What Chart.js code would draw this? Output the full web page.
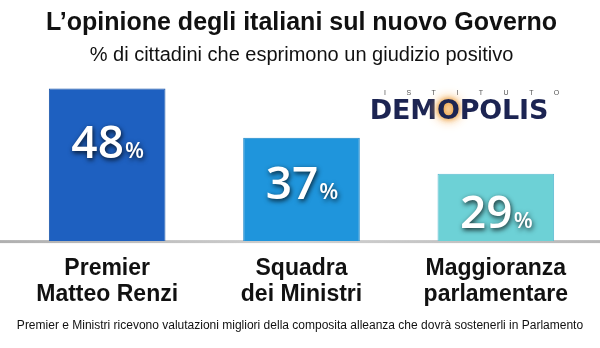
<!DOCTYPE html>
<html lang="it">
<head>
  <meta charset="UTF-8" />
  <title>L'opinione degli italiani sul nuovo Governo</title>
  <style>
    body {
      margin: 0;
      padding: 0;
      background: #fff;
      font-family: 'Liberation Sans', Arial, sans-serif;
    }
    .wrap {
      position: relative;
      width: 600px;
      height: 348px;
    }
    .logo {
      position: absolute;
      left: 364px;
      top: 89px;
      width: 190px;
      text-align: center;
    }
    .logo .istituto {
      font-size: 7px;
      color: #555;
      letter-spacing: 20.5px;
      margin-left: 20px;
      line-height: 8px;
    }
    .logo .name {
      font-family: 'DejaVu Sans', sans-serif;
      font-weight: bold;
      font-size: 27px;
      color: #1c2452;
      line-height: 26px;
      letter-spacing: -0.2px;
    }
    .logo .name span {
      text-shadow: 0 0 5px #e8952e, 0 0 10px #f0a850, 0 0 14px #f5c080;
    }
  </style>
  <script src="https://cdn.jsdelivr.net/npm/chart.js"></script>
</head>
<body>
  <div class="wrap">
    <canvas id="chart" width="600" height="348"></canvas>
    <div class="logo">
      <div class="istituto">ISTITUTO</div>
      <div class="name">DEM<span>O</span>POLIS</div>
    </div>
  </div>

  <script>
    const categorie = [['Premier', 'Matteo Renzi'], ['Squadra', 'dei Ministri'], ['Maggioranza', 'parlamentare']];
    const giudizioPositivo = [48, 37, 29];
    const coloriBarre = ['#1e60c0', '#1f95dc', '#6dd1d6'];
    const bordiBarre = ['#1a55a8', '#1a86c8', '#5bbad2'];
    const nota = 'Premier e Ministri ricevono valutazioni migliori della composita alleanza che dovrà sostenerli in Parlamento';

    const FONT = "'Liberation Sans', Arial, sans-serif";
    const FONT_VAL = "'Open Sans', 'Liberation Sans', sans-serif";

    // linea di base, etichette dei valori dentro le barre e nota in fondo
    const extraPlugin = {
      id: 'extra',
      beforeDatasetsDraw(chart) {
        const ctx = chart.ctx;
        const yBase = chart.scales.y.getPixelForValue(chart.scales.y.min);
        ctx.save();
        const g = ctx.createLinearGradient(0, 0, chart.width, 0);
        g.addColorStop(0, '#b0b0b0');
        g.addColorStop(0.5, '#d0d0d0');
        g.addColorStop(1, '#b8b8b8');
        ctx.fillStyle = g;
        ctx.fillRect(0, yBase - 1, chart.width, 3);
        ctx.restore();
      },
      afterDatasetsDraw(chart) {
        const ctx = chart.ctx;
        const meta = chart.getDatasetMeta(0);
        ctx.save();
        meta.data.forEach((bar, i) => {
          const h = bar.base - bar.y;
          const num = String(giudizioPositivo[i]);
          ctx.font = '600 46px ' + FONT_VAL;
          const wNum = ctx.measureText(num).width;
          ctx.font = '600 22px ' + FONT_VAL;
          const wPct = ctx.measureText('%').width;
          const x0 = bar.x - (wNum + wPct) / 2;
          const baseline = bar.y + 0.185 * h + 30;
          ctx.fillStyle = '#fff';
          ctx.shadowColor = 'rgba(0,0,0,0.8)';
          ctx.shadowBlur = 5;
          ctx.shadowOffsetX = 1;
          ctx.shadowOffsetY = 2;
          ctx.textBaseline = 'alphabetic';
          ctx.textAlign = 'left';
          ctx.font = '600 46px ' + FONT_VAL;
          ctx.fillText(num, x0, baseline);
          ctx.font = '600 22px ' + FONT_VAL;
          ctx.fillText('%', x0 + wNum + 1, baseline);
        });
        ctx.restore();
      },
      afterDraw(chart) {
        const ctx = chart.ctx;
        ctx.save();
        ctx.fillStyle = '#111';
        ctx.font = '12px ' + FONT;
        ctx.textAlign = 'center';
        ctx.textBaseline = 'middle';
        ctx.fillText(nota, chart.width / 2, chart.height - 22);
        ctx.restore();
      }
    };

    const chart = new Chart(document.getElementById('chart'), {
      type: 'bar',
      data: {
        labels: categorie,
        datasets: [{
          label: '% giudizio positivo',
          data: giudizioPositivo,
          backgroundColor: coloriBarre,
          borderColor: bordiBarre,
          borderWidth: 1,
          barPercentage: 0.6,
          categoryPercentage: 1
        }]
      },
      options: {
        responsive: false,
        animation: false,
        layout: {
          padding: { left: 10, right: 7, top: 0, bottom: 26 }
        },
        plugins: {
          legend: { display: false },
          tooltip: { enabled: false },
          title: {
            display: true,
            text: 'L’opinione degli italiani sul nuovo Governo',
            color: '#111',
            font: { family: FONT, size: 25, weight: 'bold' },
            padding: { top: 8, bottom: 5 }
          },
          subtitle: {
            display: true,
            text: '% di cittadini che esprimono un giudizio positivo',
            color: '#111',
            font: { family: FONT, size: 20 },
            padding: { bottom: 8 }
          }
        },
        scales: {
          x: {
            grid: { display: false, drawTicks: false },
            border: { display: false },
            ticks: {
              color: '#111',
              font: { family: FONT, size: 23, weight: 'bold', lineHeight: 1.15 },
              padding: 14,
              maxRotation: 0
            }
          },
          y: {
            display: false,
            min: 14,
            max: 51
          }
        }
      },
      plugins: [extraPlugin]
    });
  </script>
</body>
</html>
